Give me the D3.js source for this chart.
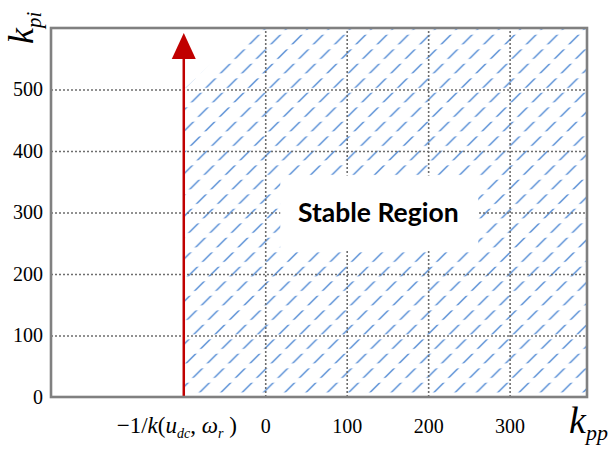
<!DOCTYPE html>
<html>
<head>
<meta charset="utf-8">
<script src="https://cdn.jsdelivr.net/npm/d3@7"></script>
<style>
  body { margin: 0; background: #fff; }
</style>
</head>
<body>
<div id="grafica"></div>
<script>
// Datos del gráfico
const dominioKpp = [-263, 395];
const dominioKpi = [0, 600];
const ticksKpp = [0, 100, 200, 300];
const ticksKpi = [0, 100, 200, 300, 400, 500];
const gridKpi = [100, 200, 300, 400, 500];
const limiteKpp = -100;          // -1/k(udc, wr)
const puntaFlecha = 592;          // kpi en la punta de la flecha
const regionEstable = [[-100, 0], [-100, 500], [-20, 600], [395, 600], [395, 0]];
const textoRegion = "Stable Region";
const posTextoRegion = [140, 300];

// 1. Lienzo
const W = 614, H = 455;
const margin = { top: 28, right: 27, bottom: 58, left: 51 };
const width = W - margin.left - margin.right;
const height = H - margin.top - margin.bottom;

const svg = d3.select("#grafica")
    .append("svg")
    .attr("width", W)
    .attr("height", H);

// 2. Escalas
const x = d3.scaleLinear().domain(dominioKpp).range([margin.left, margin.left + width]);
const y = d3.scaleLinear().domain(dominioKpi).range([margin.top + height, margin.top]);

// 3. Patrón de rayado (líneas discontinuas a 45°)
const pw = 21.3, ph = 14.5;
const defs = svg.append("defs");
const patron = defs.append("pattern")
    .attr("id", "rayado")
    .attr("patternUnits", "userSpaceOnUse")
    .attr("width", pw)
    .attr("height", ph)
    .attr("x", 17 - pw / 2)
    .attr("y", 10.6 - ph / 2)
    .attr("patternTransform", "skewX(-45)");
patron.append("line")
    .attr("x1", pw / 2).attr("x2", pw / 2)
    .attr("y1", ph / 2 - 4.8).attr("y2", ph / 2 + 4.8)
    .attr("stroke", "#72a0dc")
    .attr("stroke-width", 2.4);

defs.append("clipPath").attr("id", "area")
    .append("rect")
    .attr("x", margin.left).attr("y", margin.top)
    .attr("width", width).attr("height", height);

// 4. Región estable rayada
svg.append("path")
    .datum(regionEstable)
    .attr("clip-path", "url(#area)")
    .attr("d", d3.line().x(d => x(d[0])).y(d => y(d[1])))
    .attr("fill", "url(#rayado)");

// 5. Rejilla punteada
const estiloGrid = g => {
    g.select(".domain").remove();
    g.selectAll("line")
        .attr("stroke", "#6e6e6e")
        .attr("stroke-width", 1.6)
        .attr("stroke-dasharray", "2,2");
};
svg.append("g")
    .attr("transform", `translate(${margin.left},0)`)
    .call(d3.axisLeft(y).tickValues(gridKpi).tickSize(-width).tickFormat(""))
    .call(estiloGrid);
svg.append("g")
    .attr("transform", `translate(0,${margin.top + height})`)
    .call(d3.axisBottom(x).tickValues(ticksKpp).tickSize(-height).tickFormat(""))
    .call(estiloGrid);

// 6. Caja blanca con el texto de la región
const cx = x(posTextoRegion[0]), cy = y(posTextoRegion[1]);
svg.append("rect")
    .attr("x", cx - 99).attr("y", cy - 37)
    .attr("width", 198).attr("height", 75)
    .attr("fill", "#fff");
svg.append("text")
    .attr("x", cx - 1)
    .attr("y", cy + 9)
    .attr("text-anchor", "middle")
    .attr("font-family", "Lato, 'Open Sans', sans-serif")
    .attr("font-weight", "bold")
    .attr("font-size", 26.5)
    .attr("fill", "#000")
    .text(textoRegion);

// 7. Flecha roja en kpp = -1/k
svg.append("line")
    .attr("x1", x(limiteKpp)).attr("x2", x(limiteKpp))
    .attr("y1", y(0)).attr("y2", y(puntaFlecha) + 24)
    .attr("stroke", "#c00000")
    .attr("stroke-width", 2.5);
svg.append("path")
    .attr("d", `M${x(limiteKpp)},${y(puntaFlecha)} l12,26 l-24,0 Z`)
    .attr("fill", "#c00000");

// 8. Marco
svg.append("rect")
    .attr("x", margin.left).attr("y", margin.top)
    .attr("width", width).attr("height", height)
    .attr("fill", "none")
    .attr("stroke", "#808080")
    .attr("stroke-width", 2.6);

// 9. Etiquetas de los ejes
const estiloTicks = g => {
    g.select(".domain").remove();
    g.selectAll("text")
        .attr("font-family", "'Liberation Serif', 'Times New Roman', serif")
        .attr("font-size", 20)
        .attr("fill", "#000");
};
svg.append("g")
    .attr("transform", `translate(${margin.left},0)`)
    .call(d3.axisLeft(y).tickValues(ticksKpi).tickSize(0).tickPadding(8))
    .call(estiloTicks);
svg.append("g")
    .attr("transform", `translate(0,${margin.top + height})`)
    .call(d3.axisBottom(x).tickValues(ticksKpp).tickSize(0).tickPadding(22))
    .call(estiloTicks);

// Etiqueta -1/k(udc, wr)
const serif = "'Liberation Serif', 'Times New Roman', serif";
const lab = svg.append("text")
    .attr("x", x(limiteKpp) - 7)
    .attr("y", 433)
    .attr("text-anchor", "middle")
    .attr("font-family", serif)
    .attr("font-size", 23);
lab.append("tspan").text("\u22121/");
lab.append("tspan").attr("font-style", "italic").text("k");
lab.append("tspan").text("(");
lab.append("tspan").attr("font-style", "italic").text("u");
lab.append("tspan").attr("font-style", "italic").attr("font-size", 14).attr("dy", 5).text("dc");
lab.append("tspan").attr("dy", -5).text(", ");
lab.append("tspan").attr("font-style", "italic").text("\u03c9");
lab.append("tspan").attr("font-style", "italic").attr("font-size", 14).attr("dy", 5).text("r");
lab.append("tspan").attr("dy", -5).text(" )");

// Título eje X: k_pp
const tx = svg.append("text")
    .attr("x", 569).attr("y", 433)
    .attr("font-family", serif)
    .attr("font-style", "italic")
    .attr("font-size", 38);
tx.append("tspan").text("k");
tx.append("tspan").attr("font-size", 22).attr("dy", 7).text("pp");

// Título eje Y: k_pi (rotado)
const ty = svg.append("text")
    .attr("transform", "translate(33,44) rotate(-90)")
    .attr("font-family", serif)
    .attr("font-style", "italic")
    .attr("font-size", 36);
ty.append("tspan").text("k");
ty.append("tspan").attr("font-size", 21).attr("dy", 8).text("pi");
</script>
</body>
</html>
